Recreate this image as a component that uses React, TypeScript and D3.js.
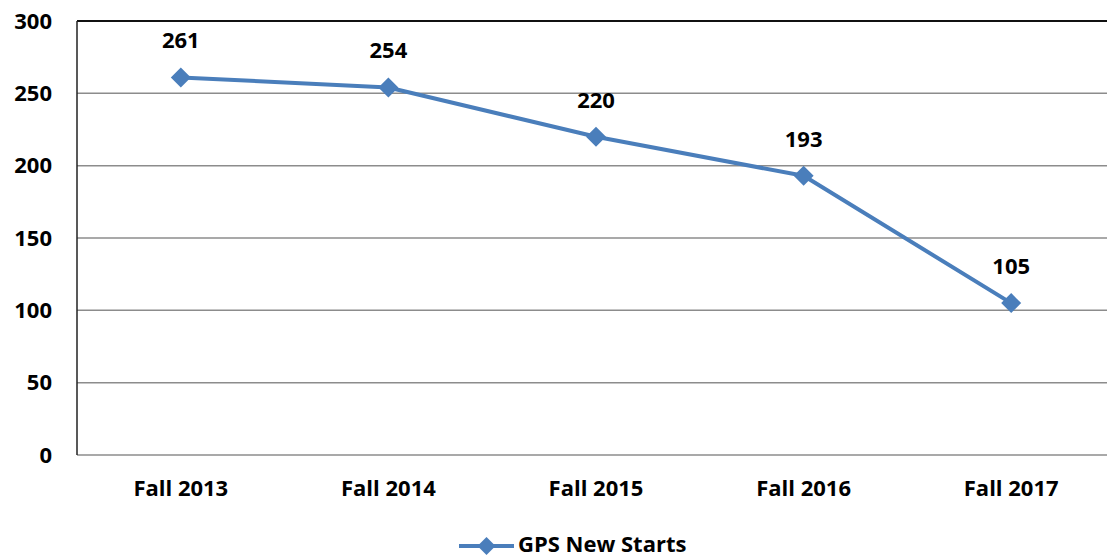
import { useEffect, useMemo, useRef } from 'react';
import * as d3 from 'd3';

const categories = ['Fall 2013', 'Fall 2014', 'Fall 2015', 'Fall 2016', 'Fall 2017'];
const newStarts = [261, 254, 220, 193, 105];
const yTicks = [0, 50, 100, 150, 200, 250, 300];
const seriesName = 'GPS New Starts';

const width = 1107;
const height = 559;
const margin = { top: 21, right: -8, bottom: 104, left: 77 };
const blue = '#4a7ebb';
const font = "'Open Sans', 'Liberation Sans', sans-serif";
const fontSize = 22;

function diamond(cx: number, cy: number, r: number) {
    return `M${cx},${cy - r}L${cx + r},${cy}L${cx},${cy + r}L${cx - r},${cy}Z`;
}

export default function App() {
    const yAxisEl = useRef<SVGGElement>(null);

    const xScale = useMemo(
        () =>
            d3
                .scalePoint<string>()
                .domain(categories)
                .range([margin.left, width - margin.right])
                .padding(0.5),
        []
    );
    const yScale = useMemo(
        () => d3.scaleLinear().domain([0, 300]).range([height - margin.bottom, margin.top]),
        []
    );

    useEffect(() => {
        if (!yAxisEl.current) return;
        d3.select(yAxisEl.current)
            .call(d3.axisLeft(yScale).tickValues(yTicks).tickSize(0).tickPadding(25))
            .call((g) => g.select('.domain').remove())
            .call((g) =>
                g
                    .selectAll('.tick text')
                    .attr('font-family', font)
                    .attr('font-weight', 700)
                    .attr('font-size', fontSize)
                    .attr('fill', '#000')
            );
    }, [yScale]);

    const line = d3
        .line<number>()
        .x((_d, i) => xScale(categories[i]) as number)
        .y((d) => yScale(d));

    const plotRight = width;

    return (
        <svg
            width={width}
            height={height}
            style={{ position: 'absolute', left: 0, top: 0, background: '#fff' }}
        >
            {yTicks.map((t) => (
                <line
                    key={t}
                    x1={margin.left}
                    x2={plotRight}
                    y1={yScale(t)}
                    y2={yScale(t)}
                    stroke={t === 300 ? '#111' : '#8c8c8c'}
                    strokeWidth={t === 300 ? 2 : 1.5}
                />
            ))}
            <line
                x1={margin.left}
                x2={margin.left}
                y1={yScale(300)}
                y2={yScale(0)}
                stroke="#222"
                strokeWidth={1.5}
            />
            <g ref={yAxisEl} transform={`translate(${margin.left}, 0)`} />
            {categories.map((c) => (
                <text
                    key={c}
                    x={xScale(c)}
                    y={yScale(0) + 35}
                    textAnchor="middle"
                    dominantBaseline="middle"
                    fontFamily={font}
                    fontWeight={700}
                    fontSize={fontSize}
                >
                    {c}
                </text>
            ))}
            <path d={line(newStarts) || ''} fill="none" stroke={blue} strokeWidth={4} strokeLinejoin="round" />
            {newStarts.map((v, i) => (
                <g key={i}>
                    <path d={diamond(xScale(categories[i]) as number, yScale(v), 10)} fill={blue} />
                    <text
                        x={xScale(categories[i])}
                        y={yScale(v) - 35}
                        textAnchor="middle"
                        dominantBaseline="middle"
                        fontFamily={font}
                        fontWeight={700}
                        fontSize={fontSize}
                    >
                        {v}
                    </text>
                </g>
            ))}
            <g transform="translate(459, 546)">
                <line x1={0} x2={55} y1={0} y2={0} stroke={blue} strokeWidth={4} />
                <path d={diamond(27.5, 0, 9)} fill={blue} />
                <text
                    x={59}
                    y={0}
                    dominantBaseline="middle"
                    fontFamily={font}
                    fontWeight={700}
                    fontSize={fontSize}
                >
                    {seriesName}
                </text>
            </g>
        </svg>
    );
}
